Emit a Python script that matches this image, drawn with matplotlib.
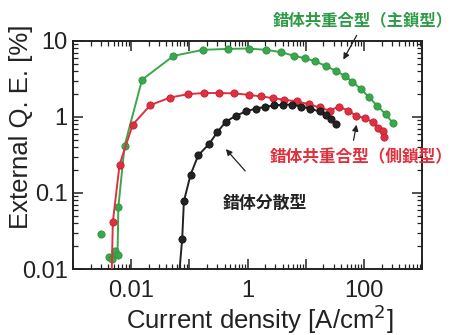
import matplotlib
matplotlib.use("Agg")
import matplotlib.pyplot as plt
from matplotlib.ticker import LogLocator, FixedLocator, FuncFormatter, NullFormatter

# ---------------- data ----------------
# Main-chain copolymer (green)
green_x = [0.00406, 0.00464, 0.0053, 0.0058, 0.0060, 0.00768, 0.0153, 0.0531, 0.171, 0.468,
           1.035, 2.06, 3.79, 6.28, 9.6, 14.3, 21.8, 32.5, 46.5, 63, 87.9, 122, 168, 237, 318]
green_y = [0.0143, 0.0136, 0.0171, 0.0155, 0.0655, 0.42, 3.08, 6.35, 7.62, 7.85,
           7.93, 7.62, 7.1, 6.35, 5.92, 5.4, 4.7, 4.04, 3.47, 2.92, 2.32, 1.82, 1.40, 1.08, 0.82]
green_iso_x = [0.00303]
green_iso_y = [0.029]

# Side-chain copolymer (red); first point lies below the axis (line leaves the frame)
red_x = [0.0046, 0.00482, 0.00629, 0.01055, 0.0213, 0.0466, 0.0953, 0.175, 0.322, 0.593,
         1.06, 1.69, 2.69, 4.27, 6.98, 11.3, 17.2, 25.6, 37.1, 53, 74, 103, 140, 175, 208, 219]
red_y = [0.008, 0.0416, 0.235, 0.789, 1.43, 1.80, 1.995, 2.06, 2.06, 2.04,
         1.95, 1.86, 1.77, 1.68, 1.60, 1.47, 1.33, 1.21, 1.37, 1.21, 1.03, 0.965, 0.855, 0.713, 0.645, 0.538]

# Dispersed complex (black); first point lies below the axis
black_x = [0.066, 0.0750, 0.0802, 0.1045, 0.1417, 0.217, 0.302, 0.421, 0.626, 0.932,
           1.39, 1.98, 2.87, 4.11, 5.80, 8.29, 11.9, 17.2, 22.4, 27.4, 32.5]
black_y = [0.008, 0.0249, 0.0778, 0.174, 0.313, 0.44, 0.632, 0.865, 1.035, 1.18,
           1.29, 1.35, 1.42, 1.45, 1.45, 1.37, 1.28, 1.18, 1.07, 0.937, 0.798]

x_major = [1e-3, 1e-2, 1e-1, 1, 10, 100, 1000]
x_labels = {1e-2: "0.01", 1.0: "1", 100.0: "100"}
y_major = [0.01, 0.1, 1, 10]
y_labels = ["0.01", "0.1", "1", "10"]

label_green = "錯体共重合型（主鎖型）"
label_red = "錯体共重合型（側鎖型）"
label_black = "錯体分散型"

# ---------------- figure ----------------
fig = plt.figure(figsize=(4.54, 3.35), dpi=100)
ax = fig.add_axes([0.161, 0.197, 0.769, 0.681])

c_green = "#3aa84a"
c_red = "#e0303f"
c_black = "#222222"
ms = 5.2
lw = 1.4

ax.plot(green_x, green_y, "-o", color=c_green, lw=lw, ms=ms, mec="#2f9040", mew=0.6, zorder=3)
ax.plot(green_iso_x, green_iso_y, "o", color=c_green, ms=ms, mec="#2f9040", mew=0.6, zorder=3)
ax.plot(red_x, red_y, "-o", color=c_red, lw=lw, ms=ms, mec="#c02030", mew=0.6,
        markevery=list(range(1, len(red_x))), zorder=3)
ax.plot(black_x, black_y, "-o", color=c_black, lw=lw, ms=ms, mec="#111111", mew=0.6,
        markevery=list(range(1, len(black_x))), zorder=4)

ax.set_xscale("log")
ax.set_yscale("log")
ax.set_xlim(1e-3, 1e3)
ax.set_ylim(0.01, 10)

ax.xaxis.set_major_locator(FixedLocator(x_major))
ax.xaxis.set_major_formatter(FuncFormatter(
    lambda v, p: next((s for k, s in x_labels.items() if abs(v - k) / k < 1e-6), "")))
ax.xaxis.set_minor_locator(LogLocator(base=10, subs=range(2, 10), numticks=100))
ax.xaxis.set_minor_formatter(NullFormatter())
ax.yaxis.set_major_locator(FixedLocator(y_major))
ax.set_yticklabels(y_labels)
ax.yaxis.set_minor_locator(LogLocator(base=10, subs=range(2, 10), numticks=100))
ax.yaxis.set_minor_formatter(NullFormatter())

ax.tick_params(which="both", direction="in", top=True, right=True, color="#222222")
ax.tick_params(which="major", length=7, width=1.1)
ax.tick_params(which="minor", length=3.5, width=0.9)
ax.tick_params(axis="x", which="major", pad=8)
ax.tick_params(axis="y", which="major", pad=4)
for lab in ax.get_xticklabels() + ax.get_yticklabels():
    lab.set_fontfamily("Liberation Sans")
    lab.set_fontsize(17)
    lab.set_color("#222222")

for s in ax.spines.values():
    s.set_linewidth(1.4)
    s.set_color("#222222")

ax.set_xlabel("Current density [A/cm$^2$]", fontfamily="Liberation Sans", fontsize=18.5,
              color="#222222")
ax.set_ylabel("External Q. E. [%]", fontfamily="Liberation Sans", fontsize=18.5,
              color="#222222")
ax.xaxis.set_label_coords((260 - 73) / 349, (269 - 302) / 228)
ax.yaxis.set_label_coords((33 - 73) / 349, (269 - 127) / 228)

cjk = ["Noto Sans CJK JP", "DejaVu Sans"]
fig.text(453 / 454, 1 - 20 / 335, label_green, ha="right", va="center", color="#2e9a48",
         fontsize=11.8, fontweight="bold", family=cjk)
fig.text(453 / 454, 1 - 157 / 335, label_red, ha="right", va="center", color="#e0303c",
         fontsize=12, fontweight="bold", family=cjk)
fig.text(223 / 454, 1 - 203 / 335, label_black, ha="left", va="center", color="#222222",
         fontsize=12.2, fontweight="bold", family=cjk)

arrow = dict(arrowstyle="-|>", color="#222222", lw=0.9, mutation_scale=9)
def px(x, y):
    return (x / 454, 1 - y / 335)
fig.add_artist(matplotlib.patches.FancyArrowPatch(px(358, 33), px(342, 62), transform=fig.transFigure, **arrow))
fig.add_artist(matplotlib.patches.FancyArrowPatch(px(353, 143), px(357, 122), transform=fig.transFigure, **arrow))
fig.add_artist(matplotlib.patches.FancyArrowPatch(px(247, 173), px(224, 147), transform=fig.transFigure, **arrow))

fig.savefig("out.png", dpi=100)
